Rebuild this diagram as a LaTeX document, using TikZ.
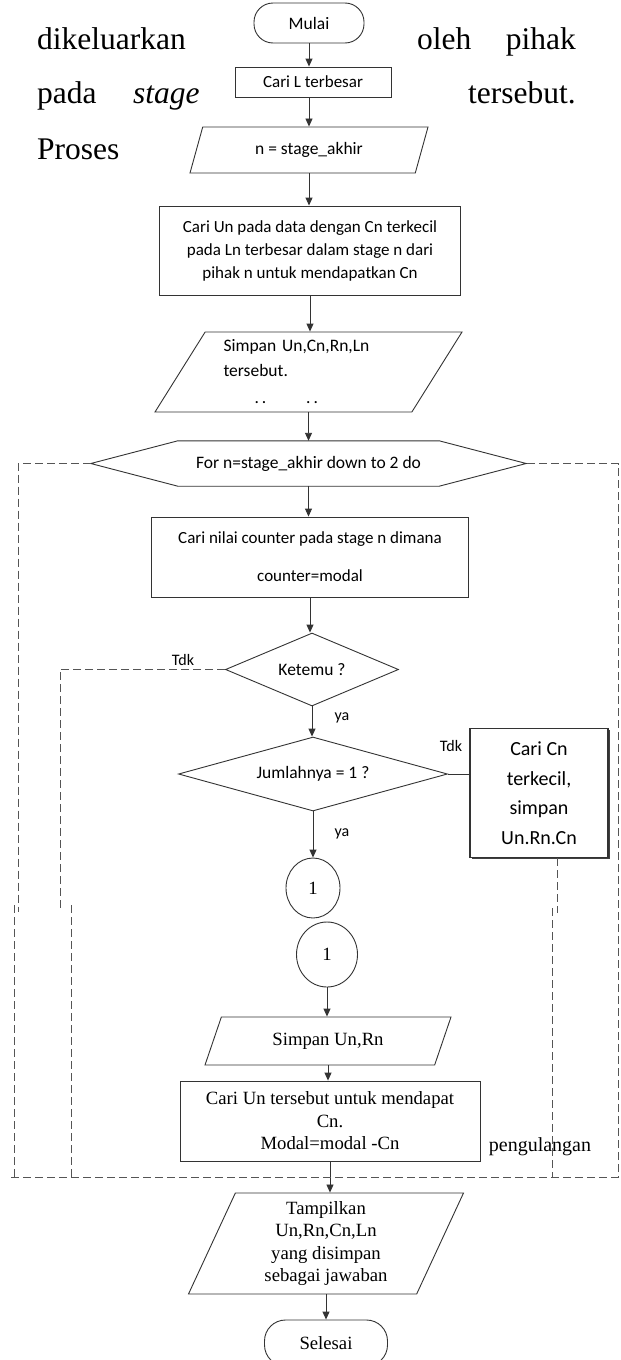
\documentclass[tikz,border=0pt]{standalone}
\usepackage{fontspec}
\setmainfont{Liberation Serif}
\newfontfamily\calibri{Carlito}
\usetikzlibrary{
  shapes.geometric,
  arrows.meta,
  shadows,
  backgrounds
}
\usepackage{xcolor}
\definecolor{linegray}{HTML}{333333}
\definecolor{dashgray}{HTML}{555555}

\begin{document}
\begin{tikzpicture}[
  x=1pt, y=-1pt,
  my_body/.style={
    anchor=base west,
    inner sep=0pt,
    font=\fontsize{31.5}{38}\selectfont,
  },
  my_term/.style={
    draw=linegray, line width=0.9pt,
    rectangle, rounded corners=19pt,
    inner sep=0pt, minimum width=110pt, minimum height=40pt,
    font=\calibri\fontsize{17.5}{21}\selectfont,
  },
  my_box/.style={
    draw=linegray, line width=0.9pt,
    rectangle, inner sep=0pt, align=center,
    font=\calibri\fontsize{17}{23}\selectfont,
  },
  my_io/.style={
    draw=linegray, line width=0.9pt,
    trapezium, trapezium stretches body,
    inner sep=0pt, align=center,
    font=\calibri\fontsize{17.5}{23}\selectfont,
  },
  my_cond/.style={
    draw=linegray, line width=0.9pt,
    diamond, aspect=2.4, inner sep=0pt,
    font=\calibri\fontsize{17.5}{21}\selectfont,
  },
  my_conn/.style={
    draw=linegray, line width=0.9pt,
    ellipse, inner sep=0pt,
    font=\fontsize{18.7}{22}\selectfont,
  },
  my_label/.style={inner sep=0pt, font=\calibri\fontsize{16}{19}\selectfont},
  my_times/.style={font=\fontsize{18.7}{22.5}\selectfont},
  my_line/.style={draw=linegray, line width=0.9pt},
  my_arrow/.style={my_line, -{Triangle[length=8pt,width=7pt]}},
  my_loop/.style={draw=dashgray, line width=0.9pt, dash pattern=on 8pt off 4pt},
  ]

  \path[use as bounding box] (0,0) rectangle (621,1360);

  \begin{scope}[on background layer]
    \fill[white] (current bounding box.south west) rectangle (current bounding box.north east);
  \end{scope}

  % paragraph text around the chart
  \node[my_body] (txt_dikeluarkan) at (37,49) {dikeluarkan};
  \node[my_body] (txt_oleh) at (417,49) {oleh};
  \node[my_body, anchor=base east] (txt_pihak) at (576,49) {pihak};
  \node[my_body] (txt_pada) at (37,103) {pada};
  \node[my_body] (txt_stage) at (133,103) {\itshape stage};
  \node[my_body, anchor=base east] (txt_tersebut) at (576,103) {tersebut.};
  \node[my_body] (txt_proses) at (37,159) {Proses};

  % flowchart
  \node[my_term] (mulai) at (309,23) {Mulai};
  \node[my_box, minimum width=156pt, minimum height=30pt] (cari_l) at (313,82) {Cari L terbesar};
  \node[my_io, trapezium left angle=50, trapezium right angle=130, minimum width=238pt, minimum height=46pt] (stage_akhir) at (309,150) {n = stage\_akhir};
  \node[my_box, minimum width=301pt, minimum height=89pt] (cari_un) at (310,250.5) {Cari Un pada data dengan Cn terkecil\\pada Ln terbesar dalam stage n dari\\pihak n untuk mendapatkan Cn};
  \node[my_io, trapezium left angle=52, trapezium right angle=128, minimum width=307pt, minimum height=80pt, align=left, text width=170pt, font=\calibri\fontsize{17.5}{25}\selectfont] (simpan_all) at (308.5,372) {Simpan Un,Cn,Rn,Ln\\tersebut.\\[2pt]\hspace*{31pt}.\,.\hspace{40pt}.\,.};

  \node[inner sep=0pt, minimum width=261pt, minimum height=45pt, font=\calibri\fontsize{17.5}{21}\selectfont] (for_loop) at (308.5,463.5) {For n=stage\_akhir down to 2 do};
  \coordinate (for_w) at ([xshift=-87pt]for_loop.west);
  \coordinate (for_e) at ([xshift=87pt]for_loop.east);
  \draw[my_line] (for_w) -- (for_loop.north west) -- (for_loop.north east) -- (for_e) -- (for_loop.south east) -- (for_loop.south west) -- cycle;

  \node[my_box, minimum width=317pt, minimum height=80pt, font=\calibri\fontsize{17}{38}\selectfont] (cari_counter) at (310,557) {Cari nilai counter pada stage n dimana\\counter=modal};
  \node[my_cond, minimum width=173pt, minimum height=73pt] (ketemu) at (312,669.5) {Ketemu ?};
  \node[my_cond, minimum width=269pt, minimum height=74pt] (jumlah) at (313,774) {Jumlahnya = 1 ?};
  \node[my_box, fill=white, line width=1.1pt, drop shadow={shadow xshift=1.6pt, shadow yshift=-1.6pt, fill=black!75, opacity=1}, minimum width=138pt, minimum height=129pt, font=\calibri\fontsize{20}{29.5}\selectfont] (cari_cn) at (539,793) {Cari Cn\\terkecil,\\simpan\\Un.Rn.Cn};

  \node[my_conn, minimum width=54pt, minimum height=60pt] (conn_a) at (313,888) {1};
  \node[my_conn, minimum width=61pt, minimum height=65pt] (conn_b) at (327,954.5) {1};
  \node[my_io, my_times, trapezium left angle=45, trapezium right angle=135, minimum width=246pt, minimum height=48pt] (simpan_ur) at (328,1041) {Simpan Un,Rn};
  \node[my_box, my_times, minimum width=300pt, minimum height=80pt] (cari_modal) at (330,1121) {Cari Un tersebut untuk mendapat\\Cn.\\Modal=modal -Cn};
  \node[my_io, my_times, trapezium left angle=61, trapezium right angle=119, minimum width=275pt, minimum height=101pt] (tampilkan) at (326,1243.5) {Tampilkan\\Un,Rn,Cn,Ln\\yang disimpan\\sebagai jawaban};
  \node[my_term, my_times, minimum width=123pt, minimum height=46pt, rounded corners=21pt] (selesai) at (326,1343) {Selesai};

  % labels
  \node[my_label] (tdk_a) at (183,660) {Tdk};
  \node[my_label] (ya_a) at (342,718) {ya};
  \node[my_label] (tdk_b) at (451,746) {Tdk};
  \node[my_label] (ya_b) at (342,834) {ya};
  \node[font=\fontsize{20}{24}\selectfont, inner sep=0pt] (pengulangan) at (540,1147) {pengulangan};

  % arrows
  \draw[my_arrow] (mulai.south) -- (mulai.south |- cari_l.north);
  \draw[my_arrow] (cari_l.south -| mulai) -- (mulai |- stage_akhir.north);
  \draw[my_arrow] (stage_akhir.south) -- (stage_akhir.south |- cari_un.north);
  \draw[my_arrow] (cari_un.south) -- (cari_un.south |- simpan_all.north);
  \draw[my_arrow] (simpan_all.south) -- (simpan_all.south |- for_loop.north);
  \draw[my_arrow] (for_loop.south) -- (for_loop.south |- cari_counter.north);
  \draw[my_arrow] (cari_counter.south) -- (cari_counter.south |- ketemu.north);
  \draw[my_arrow] (ketemu.south) -- (ketemu.south |- jumlah.north);
  \draw[my_arrow] (jumlah.south) -- (jumlah.south |- conn_a.north);
  \draw[my_arrow] (conn_b.south) -- (conn_b.south |- simpan_ur.north);
  \draw[my_arrow] (simpan_ur.south) -- (simpan_ur.south |- cari_modal.north);
  \draw[my_arrow] (cari_modal.south) -- (cari_modal.south |- tampilkan.north);
  \draw[my_arrow] (tampilkan.south) -- (tampilkan.south |- selesai.north);
  \draw[my_line] (jumlah.east) -- (jumlah.east -| cari_cn.west);

  % loop lines
  \coordinate (brk_ol) at (18,912);
  \coordinate (brk_il) at (60,912);
  \coordinate (brk_ir) at (557,913);
  \coordinate (low_ol) at (14,905);
  \coordinate (low_il) at (71,905);
  \coordinate (low_ir) at (552,908);
  \coordinate (loop_bl) at (11,1177);
  \coordinate (loop_br) at (618,1177);
  \draw[my_loop] (for_w) -| (brk_ol);
  \draw[my_loop] (ketemu.west) -| (brk_il);
  \draw[my_loop] (cari_cn.south -| brk_ir) -- (brk_ir);
  \draw[my_loop] (low_ol) -- (low_ol |- loop_bl);
  \draw[my_loop] (low_il) -- (low_il |- loop_bl);
  \draw[my_loop] (low_ir) -- (low_ir |- loop_bl);
  \draw[my_loop] (loop_bl) -- (loop_br) |- (for_e);

\end{tikzpicture}
\end{document}
